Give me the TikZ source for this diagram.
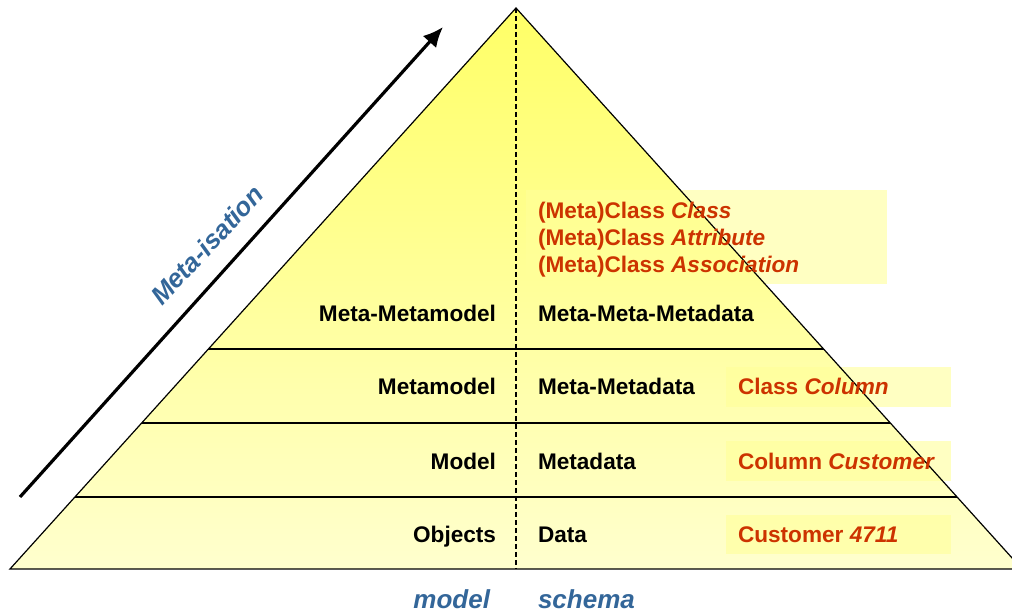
\documentclass[tikz,border=0pt]{standalone}
\usepackage{fontspec}
\setmainfont{Liberation Sans}
\usetikzlibrary{arrows.meta}
\definecolor{instred}{RGB}{204,51,0}
\definecolor{metablue}{RGB}{51,102,153}
\definecolor{pyrtop}{RGB}{255,255,102}
\definecolor{pyrbot}{RGB}{255,255,206}
\definecolor{tagfill}{RGB}{255,255,153}
\begin{document}
\begin{tikzpicture}[x=.5pt,y=-.5pt,
  lvl/.style={inner sep=0pt,outer sep=0pt,font=\fontsize{11.3}{13.6}\selectfont\bfseries},
  lvlL/.style={lvl,anchor=base east},
  lvlR/.style={lvl,anchor=base west},
  inst/.style={lvl,anchor=base west,text=instred},
  tag/.style={fill=tagfill,fill opacity=.6,draw=none},
  axis/.style={inner sep=0pt,outer sep=0pt,font=\fontsize{13}{15.6}\selectfont\bfseries\itshape,text=metablue}]
\path[use as bounding box] (0,0) rectangle (1012,613);
\coordinate (apex) at (516,8);
\coordinate (bl) at (10,569);
\coordinate (br) at (1022,569);
\coordinate (bm) at (516,569);
% pyramid
\path[top color=pyrtop,bottom color=pyrbot] (apex) -- (br) -- (bl) -- cycle;
\path[tag] (526,190) rectangle (887,284);
\path[tag] (726,367) rectangle (951,407);
\path[tag] (726,441) rectangle (951,481);
\path[tag] (726,515) rectangle (951,554);
\begin{scope}
\clip (apex) -- (br) -- (bl) -- cycle;
\foreach \y in {349,423,497}
  \draw[line width=.6pt] (0,\y) -- (1012,\y);
\end{scope}
\draw[line width=.6pt,line join=miter] (apex) -- (br) -- (bl) -- cycle;
\draw[line width=.7pt,dash pattern=on 2.5pt off 1.5pt] (apex) -- (bm);
% levels
\node[lvlL] (mmm) at (496,322) {Meta-Metamodel};
\node[lvlL] (mm) at (496,395) {Metamodel};
\node[lvlL] (m) at (496,470) {Model};
\node[lvlL] (obj) at (496,543) {Objects};
\node[lvlR] (mmmd) at (538,322) {Meta-Meta-Metadata};
\node[lvlR] (mmd) at (538,395) {Meta-Metadata};
\node[lvlR] (md) at (538,470) {Metadata};
\node[lvlR] (dat) at (538,543) {Data};
% instances
\node[inst] (iclass) at (538,219) {(Meta)Class \textit{Class}};
\node[inst] (iattr) at (538,246) {(Meta)Class \textit{Attribute}};
\node[inst] (iassoc) at (538,273) {(Meta)Class \textit{Association}};
\node[inst] (icol) at (738,395) {Class \textit{Column}};
\node[inst] (icust) at (738,470) {Column \textit{Customer}};
\node[inst] (i4711) at (738,543) {Customer \textit{4711}};
% axes
\node[axis,anchor=base east] (model) at (490,609) {model};
\node[axis,anchor=base west] (schema) at (538,609) {schema};
\coordinate (lo) at (20,497);
\coordinate (hi) at (443,27);
\draw[line width=1.6pt,-{Latex[length=10pt,width=9pt]}] (lo) -- (hi);
\node[axis,rotate=47] (metaisation) at (207,245) {Meta-isation};
\end{tikzpicture}
\end{document}
